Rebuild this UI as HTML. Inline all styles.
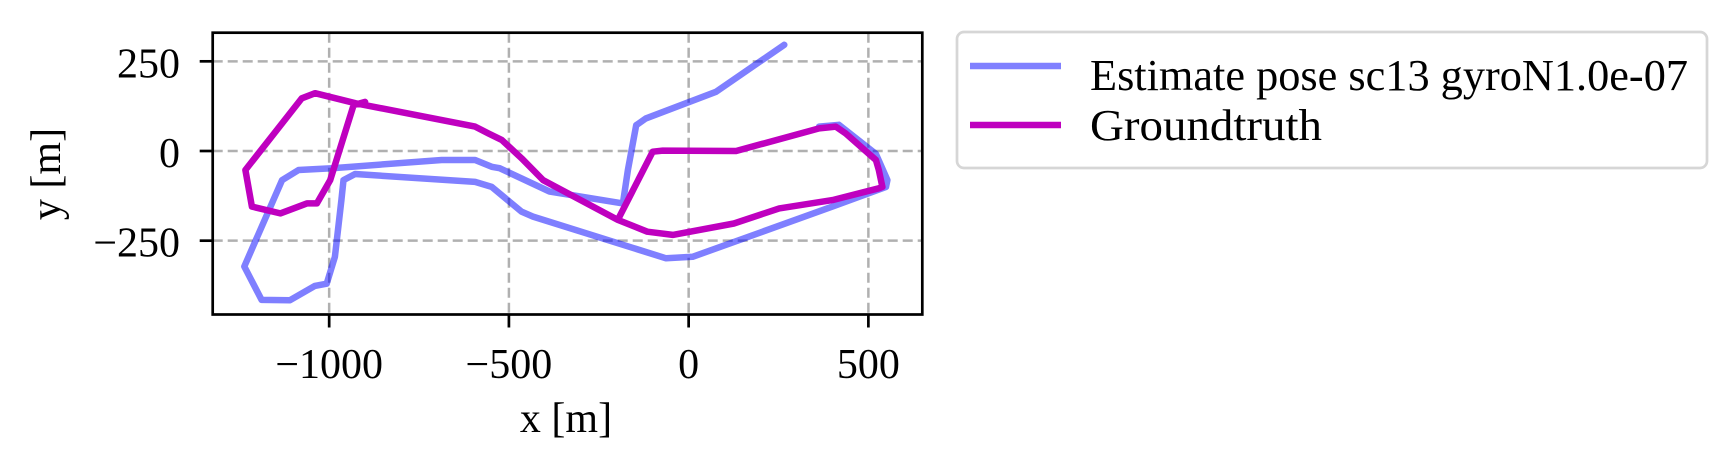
<!DOCTYPE html>
<html><head><meta charset="utf-8"><style>
html,body{margin:0;padding:0;background:#fff;}
svg{display:block;font-family:"Liberation Serif",serif;}
</style></head><body>
<svg id="chart" width="1735" height="472" viewBox="0 0 1735 472" xmlns="http://www.w3.org/2000/svg">
<g id="grid"></g>
<g id="series"></g>
<rect x="212.7" y="32.7" width="709.6" height="281.8" fill="none" stroke="#000" stroke-width="2.7"/>
<g id="ticks"></g>
<text x="566" y="432" font-size="42" text-anchor="middle">x [m]</text>
<text transform="translate(60,174) rotate(-90)" font-size="42" text-anchor="middle">y [m]</text>
<g>
<rect x="957" y="32" width="750" height="136" rx="7" fill="#fff" stroke="#d6d6d6" stroke-width="2.7"/>
<line x1="970" y1="66" x2="1061" y2="66" stroke="#8080ff" stroke-width="6.5"/>
<text x="1090" y="90" font-size="44" textLength="598" lengthAdjust="spacingAndGlyphs">Estimate pose sc13 gyroN1.0e-07</text>
<line x1="970" y1="125" x2="1061" y2="125" stroke="#bf00bf" stroke-width="6.5"/>
<text x="1090" y="140" font-size="44" textLength="232" lengthAdjust="spacingAndGlyphs">Groundtruth</text>
</g>
</svg>
<script>
const xTicks = [-1000, -500, 0, 500];
const xTickLabels = ["\u22121000", "\u2212500", "0", "500"];
const yTicks = [250, 0, -250];
const yTickLabels = ["250", "0", "\u2212250"];
const estX = [363,418,521,553,549,400,11,-63,-433,-465,-548,-594,-928,-960,-966,-984,-1007,-1040,-1109,-1188,-1236,-1131,-1085,-992,-687,-594,-548,-526,-387,-183,-169,-146,-119,76,266];
const estY = [68,73,-8,-81,-100,-155,-295,-299,-183,-169,-100,-86,-64,-81,-137,-295,-370,-376,-416,-415,-322,-81,-53,-48,-25,-25,-44,-48,-113,-146,-53,72,91,165,296];
const gtX = [-197,-100,-72,132,363,409,437,521,529,539,529,400,252,126,-44,-115,-197,-405,-465,-520,-557,-594,-926,-1039,-1076,-1233,-1215,-1136,-1062,-1034,-997,-932,-900];
const gtY = [-192,-2,1,0,63,68,49,-25,-53,-100,-104,-137,-160,-202,-234,-225,-192,-81,-20,31,49,68,133,161,147,-53,-155,-174,-146,-146,-81,128,137];

const X0 = -1324, X1 = 650, Y0 = -455.8, Y1 = 329.8;
const L = 212.7, R = 922.3, T = 32.7, B = 314.5;
function sx(v){ return L + (v - X0) / (X1 - X0) * (R - L); }
function sy(v){ return B - (v - Y0) / (Y1 - Y0) * (B - T); }
const NS = "http://www.w3.org/2000/svg";
function mk(tag, attrs, parent){ const e = document.createElementNS(NS, tag); for (const k in attrs) e.setAttribute(k, attrs[k]); parent.appendChild(e); return e; }
const grid = document.getElementById('grid'), ticks = document.getElementById('ticks'), series = document.getElementById('series');
xTicks.forEach((v, i) => {
  const g = mk('line', {x1: sx(v), x2: sx(v), y1: T, y2: B, stroke: '#b0b0b0', 'stroke-width': 2.5, 'stroke-dasharray': '10 5'}, grid);
  
  
  const t = mk('line', {x1: sx(v), x2: sx(v), y1: B, y2: B + 13, stroke: '#000', 'stroke-width': 2.7}, ticks);
  
  
  const l = mk('text', {x: sx(v), y: 378, 'font-size': 42, 'text-anchor': 'middle'}, ticks);
  l.textContent = xTickLabels[i];
  
  
});
yTicks.forEach((v, i) => {
  const g = mk('line', {x1: L, x2: R, y1: sy(v), y2: sy(v), stroke: '#b0b0b0', 'stroke-width': 2.5, 'stroke-dasharray': '10 5'}, grid);
  
  
  const t = mk('line', {x1: L - 13, x2: L, y1: sy(v), y2: sy(v), stroke: '#000', 'stroke-width': 2.7}, ticks);
  
  
  const l = mk('text', {x: 180, y: sy(v) + 16, 'font-size': 42, 'text-anchor': 'end'}, ticks);
  l.textContent = yTickLabels[i];
  
  
});
function pts(xs, ys){ return xs.map((x, i) => sx(x).toFixed(1) + ',' + sy(ys[i]).toFixed(1)).join(' '); }
const e = mk('polyline', {points: pts(estX, estY), fill: 'none', stroke: '#0000ff', 'stroke-opacity': 0.5, 'stroke-width': 6.5, 'stroke-linejoin': 'round', 'stroke-linecap': 'round'}, series);


const g2 = mk('polyline', {points: pts(gtX, gtY), fill: 'none', stroke: '#bf00bf', 'stroke-width': 6.5, 'stroke-linejoin': 'round', 'stroke-linecap': 'round'}, series);


</script>
</body></html>
